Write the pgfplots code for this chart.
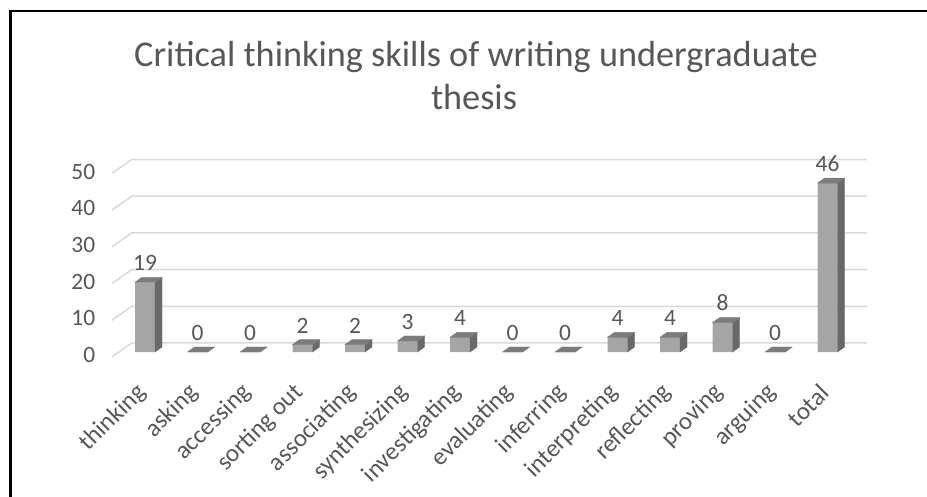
\documentclass[border=0pt]{standalone}
\usepackage{fontspec}
\setmainfont{Carlito}
\usepackage{pgfplots}
\pgfplotsset{compat=1.18}
\usepackage{pgfplotstable}

\definecolor{txt}{HTML}{575757}
\definecolor{barfront}{HTML}{A5A5A5}
\definecolor{barside}{HTML}{696969}
\definecolor{bartop}{HTML}{7C7C7C}
\definecolor{gridc}{HTML}{D9D9D9}

% number of occurrences of each skill
\pgfplotstableread{
idx value
0 19
1 0
2 0
3 2
4 2
5 3
6 4
7 0
8 0
9 4
10 4
11 8
12 0
13 46
}\skills

% empty mark: the 3D faces are drawn by the scatter code
\pgfdeclareplotmark{none3d}{}

\begin{document}
\begin{tikzpicture}
\useasboundingbox (0,0) rectangle (927bp,497bp);
\draw[line width=2.5bp, black] (10.5bp,0) -- (10.5bp,486bp) -- (927bp,486bp);
\node[txt, font=\fontsize{36.4}{43}\selectfont, anchor=base] at (476bp,430bp)
  {Critical thinking skills of writing undergraduate};
\node[txt, font=\fontsize{36.4}{43}\selectfont, anchor=base] at (474bp,387bp)
  {thesis};
\begin{axis}[
  at={(118.75bp,145bp)}, anchor=south west,
  scale only axis, width=735bp, height=183.5bp,
  xmin=-0.5, xmax=13.5, ymin=0, ymax=50,
  clip=false,
  axis line style={draw=none},
  major tick length=0pt,
  ytick={0,10,...,50},
  xtick={0,...,13},
  xticklabels={thinking, asking, accessing, sorting out, associating, synthesizing, investigating, evaluating, inferring, interpreting, reflecting, proving, arguing, total},
  tick label style={txt, font=\fontsize{23.5}{28}\selectfont},
  /pgf/number format/assume math mode=true,
  yticklabel style={anchor=east, xshift=-20bp, yshift=-3bp},
  % shifts here act along the rotated text direction
  xticklabel style={font=\fontsize{25}{30}\selectfont, rotate=45, anchor=east,
    inner sep=2bp, xshift=-26bp, yshift=-24bp},
]
% floor and back wall gridlines
\pgfplotsinvokeforeach{0,10,20,30,40,50}{
  \draw[gridc, line width=1.5bp]
    ([xshift=-7bp,yshift=-5bp]axis cs:-0.5,#1) --
    ([xshift=13bp,yshift=9bp]axis cs:-0.5,#1) --
    ([xshift=13bp,yshift=9bp]axis cs:13.5,#1);
}
% front faces
\addplot[ybar, bar width=20bp, bar shift=0pt, fill=barfront, draw=none,
  nodes near coords,
  nodes near coords style={txt, font=\fontsize{23.5}{28}\selectfont, yshift=8bp,
    /pgf/number format/assume math mode=true}]
  table[x=idx, y=value] {\skills};
% side and top faces
\addplot[scatter, only marks, mark=none3d,
  visualization depends on={rawy \as \rawv},
  scatter/@pre marker code/.code={%
    \pgfmathsetmacro\hh{\rawv*3.67}%
    \fill[barside] (10bp,0bp) -- (17bp,5bp) -- (17bp,5bp-\hh bp) -- (10bp,-\hh bp) -- cycle;
    \fill[bartop] (-10bp,0bp) -- (-3bp,5bp) -- (17bp,5bp) -- (10bp,0bp) -- cycle;
  },
  scatter/@post marker code/.code={},
] table[x=idx, y=value] {\skills};
\end{axis}
\end{tikzpicture}
\end{document}
